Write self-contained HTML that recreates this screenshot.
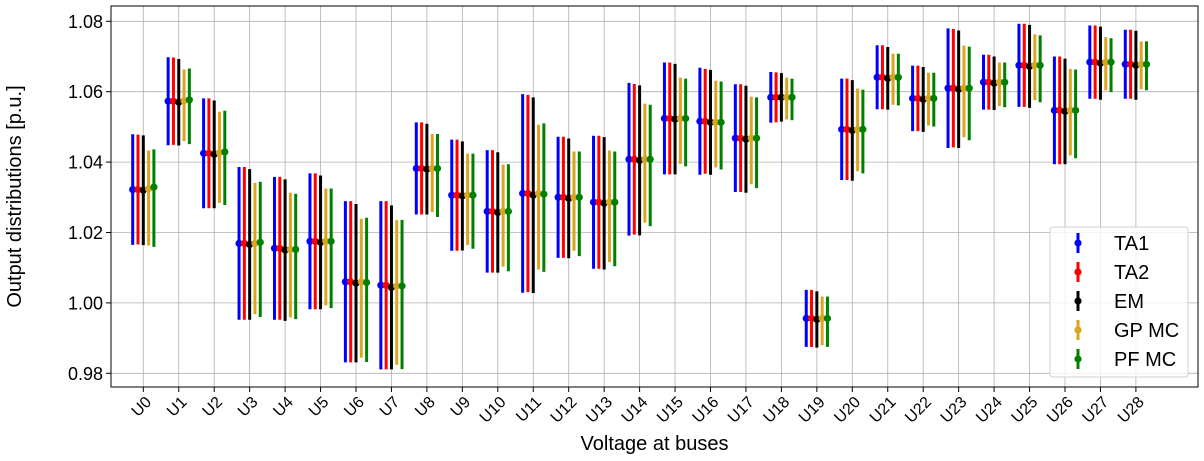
<!DOCTYPE html>
<html><head><meta charset="utf-8">
<style>
html,body{margin:0;padding:0;background:#fff;}
svg{display:block;font-family:"Liberation Sans","DejaVu Sans",sans-serif;}
</style></head>
<body>
<svg id="chart" width="1204" height="461" viewBox="0 0 1204 461" xmlns="http://www.w3.org/2000/svg"></svg>
<script>
const categories = ["U0","U1","U2","U3","U4","U5","U6","U7","U8","U9","U10","U11","U12","U13","U14","U15","U16","U17","U18","U19","U20","U21","U22","U23","U24","U25","U26","U27","U28"];
const yTicks = [0.98,1.00,1.02,1.04,1.06,1.08];
const yTickLabels = ["0.98","1.00","1.02","1.04","1.06","1.08"];
const seriesNames = ["TA1","TA2","EM","GP MC","PF MC"];
const seriesColors = ["#0000ff","#ff0000","#000000","#daa520","#008000"];
const meanTA1 = [1.0322,1.0573,1.0425,1.0169,1.0155,1.0175,1.0060,1.0050,1.0382,1.0306,1.0260,1.0311,1.0300,1.0286,1.0408,1.0524,1.0516,1.0468,1.0584,0.9956,1.0493,1.0641,1.0581,1.0610,1.0627,1.0675,1.0547,1.0684,1.0678];
const meanTA2 = [1.0322,1.0573,1.0425,1.0169,1.0155,1.0175,1.0060,1.0050,1.0382,1.0306,1.0260,1.0311,1.0300,1.0286,1.0408,1.0524,1.0516,1.0468,1.0584,0.9956,1.0493,1.0641,1.0581,1.0610,1.0627,1.0675,1.0547,1.0684,1.0678];
const meanEM  = [1.0320,1.0570,1.0422,1.0166,1.0150,1.0172,1.0056,1.0044,1.0380,1.0304,1.0257,1.0306,1.0297,1.0283,1.0405,1.0522,1.0513,1.0465,1.0584,0.9953,1.0490,1.0638,1.0578,1.0607,1.0624,1.0672,1.0544,1.0681,1.0675];
const meanGP  = [1.0324,1.0574,1.0427,1.0169,1.0152,1.0175,1.0060,1.0048,1.0382,1.0306,1.0260,1.0311,1.0300,1.0286,1.0408,1.0524,1.0513,1.0468,1.0584,0.9956,1.0493,1.0641,1.0581,1.0610,1.0627,1.0675,1.0547,1.0684,1.0678];
const meanPF  = [1.0329,1.0577,1.0429,1.0172,1.0152,1.0175,1.0058,1.0048,1.0382,1.0306,1.0260,1.0309,1.0300,1.0286,1.0408,1.0524,1.0513,1.0468,1.0584,0.9956,1.0493,1.0641,1.0581,1.0610,1.0627,1.0675,1.0547,1.0684,1.0678];
// symmetric errors
const errTA1 = [0.0157,0.0125,0.0156,0.0217,0.0203,0.0193,0.0229,0.0239,0.0131,0.0158,0.0174,0.0282,0.0172,0.0189,0.0217,0.0159,0.0152,0.0153,0.0072,0.0081,0.0144,0.0091,0.0093,0.0170,0.0078,0.0118,0.0153,0.0104,0.0098];
const errTA2 = [0.0156,0.0124,0.0156,0.0217,0.0203,0.0193,0.0229,0.0239,0.0131,0.0158,0.0174,0.0280,0.0172,0.0189,0.0214,0.0159,0.0149,0.0153,0.0071,0.0081,0.0144,0.0091,0.0093,0.0168,0.0078,0.0118,0.0153,0.0104,0.0098];
const errEM  = [0.0156,0.0123,0.0153,0.0214,0.0201,0.0190,0.0225,0.0233,0.0129,0.0155,0.0171,0.0278,0.0170,0.0188,0.0213,0.0157,0.0149,0.0152,0.0069,0.0080,0.0143,0.0089,0.0092,0.0167,0.0076,0.0118,0.0150,0.0104,0.0098];
// asymmetric errors (upper / lower)
const errUpGP = [0.0109,0.0089,0.0116,0.0172,0.0161,0.0150,0.0179,0.0187,0.0098,0.0118,0.0133,0.0195,0.0130,0.0147,0.0158,0.0116,0.0118,0.0118,0.0056,0.0062,0.0116,0.0067,0.0073,0.0121,0.0056,0.0088,0.0118,0.0071,0.0065];
const errLoGP = [0.0161,0.0114,0.0143,0.0201,0.0193,0.0182,0.0216,0.0224,0.0124,0.0142,0.0157,0.0216,0.0152,0.0170,0.0180,0.0129,0.0128,0.0131,0.0063,0.0076,0.0119,0.0078,0.0077,0.0139,0.0068,0.0099,0.0128,0.0080,0.0071];
const errUpPF = [0.0107,0.0089,0.0117,0.0172,0.0158,0.0150,0.0184,0.0188,0.0098,0.0118,0.0134,0.0201,0.0130,0.0144,0.0155,0.0113,0.0116,0.0116,0.0053,0.0062,0.0113,0.0067,0.0073,0.0118,0.0056,0.0085,0.0116,0.0068,0.0065];
const errLoPF = [0.0170,0.0126,0.0151,0.0212,0.0198,0.0190,0.0226,0.0236,0.0138,0.0152,0.0170,0.0221,0.0167,0.0182,0.0190,0.0136,0.0134,0.0142,0.0065,0.0081,0.0125,0.0080,0.0080,0.0148,0.0071,0.0105,0.0136,0.0085,0.0074];
const means = [meanTA1, meanTA2, meanEM, meanGP, meanPF];
const errUp = [errTA1, errTA2, errEM, errUpGP, errUpPF];
const errLo = [errTA1, errTA2, errEM, errLoGP, errLoPF];

const svg = document.getElementById('chart');
const NS = 'http://www.w3.org/2000/svg';
const L = 111, R = 1198, T = 6, B = 387;
function y(v){ return 21.3 + (1.08 - v) * 3520; }
function x(i){ return 143.3 + i * 35.45; }
const offsets = [-10.6, -5.3, 0, 5.3, 10.6];
function mk(tag, attrs){ const e = document.createElementNS(NS, tag); for (const k in attrs) e.setAttribute(k, attrs[k]); svg.appendChild(e); return e; }

yTicks.forEach((t, i) => {
  const g = mk('line', {x1:L, x2:R, y1:y(t), y2:y(t), stroke:'#b0b0b0', 'stroke-width':0.8});
  
  
  const tk = mk('line', {x1:L-5, x2:L, y1:y(t), y2:y(t), stroke:'#000', 'stroke-width':1});
  
  
  const lb = mk('text', {x:L-8, y:y(t)+6.5, 'text-anchor':'end', 'font-size':18, fill:'#000'});
  lb.textContent = yTickLabels[i];
  
  
});
categories.forEach((c, i) => {
  const g = mk('line', {x1:x(i), x2:x(i), y1:T, y2:B, stroke:'#b0b0b0', 'stroke-width':0.8});
  
  
  const tk = mk('line', {x1:x(i), x2:x(i), y1:B, y2:B+5, stroke:'#000', 'stroke-width':1});
  
  
  const ax = x(i) + 9, ay = B + 16;
  const lb = mk('text', {x:ax, y:ay, 'text-anchor':'end', 'font-size':16, fill:'#000', transform:'rotate(-45 '+ax+' '+ay+')'});
  lb.textContent = c;
  
  
});

means.forEach((m, s) => {
  m.forEach((v, i) => {
    const cx = x(i) + offsets[s];
    const bar = mk('line', {x1:cx, x2:cx, y1:y(v+errUp[s][i]), y2:y(v-errLo[s][i]), stroke:seriesColors[s], 'stroke-width':3});
    
    
    const pt = mk('circle', {cx:cx, cy:y(v), r:3.6, fill:seriesColors[s]});
    
    
  });
});

const fr = mk('rect', {x:L, y:T, width:R-L, height:B-T, fill:'none', stroke:'#000', 'stroke-width':1});



const xt = mk('text', {x:(L+R)/2, y:450, 'text-anchor':'middle', 'font-size':20, fill:'#000'});
xt.textContent = 'Voltage at buses';


const yt = mk('text', {x:21, y:(T+B)/2, 'text-anchor':'middle', 'font-size':20, fill:'#000', transform:'rotate(-90 21 '+((T+B)/2)+')'});
yt.textContent = 'Output distributions [p.u.]';



const lg = mk('rect', {x:1050, y:227, width:138, height:150, rx:3, fill:'#fff', 'fill-opacity':0.8, stroke:'#d0d0d0', 'stroke-width':1});


seriesNames.forEach((n, s) => {
  const ly = 243 + s * 29;
  const b = mk('line', {x1:1078, x2:1078, y1:ly-10, y2:ly+10, stroke:seriesColors[s], 'stroke-width':3});
  
  
  const c = mk('circle', {cx:1078, cy:ly, r:3.6, fill:seriesColors[s]});
  
  
  const t = mk('text', {x:1114, y:ly+7, 'font-size':20, fill:'#000'});
  t.textContent = n;
  
  
});
</script>
</body></html>
